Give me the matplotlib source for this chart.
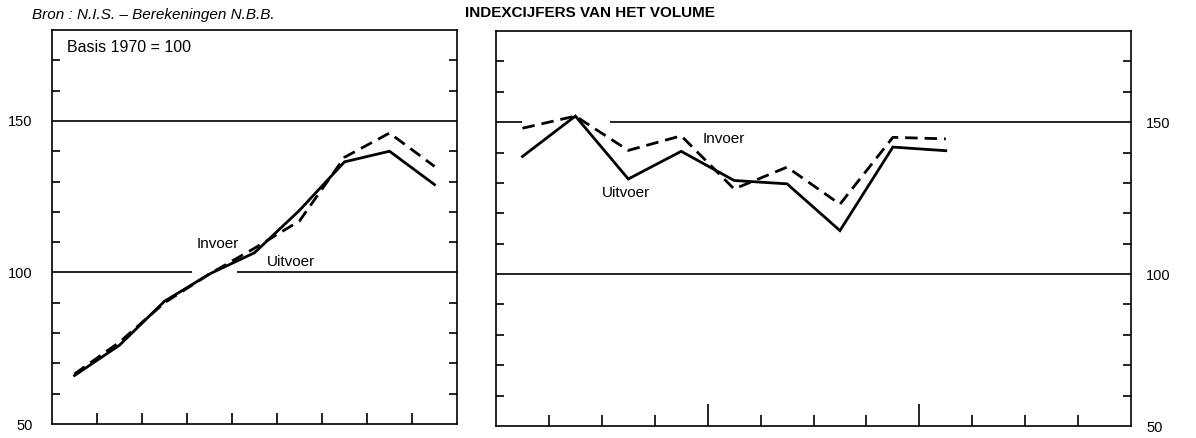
import matplotlib
matplotlib.use("Agg")
import matplotlib.pyplot as plt
import numpy as np
from matplotlib.ticker import FixedLocator

plt.rcParams['font.family'] = ['Liberation Sans', 'DejaVu Sans']

# ---- data (index, basis 1970 = 100) ----
left_uitvoer = [66, 76, 90.5, 99.5, 106.5, 120.5, 136.5, 140, 129]
left_invoer = [66.5, 77, 90, 99.5, 108, 117, 138, 146, 135]
right_uitvoer = [138.7, 152, 131.3, 140.4, 130.8, 129.7, 114.3, 141.8, 140.6]
right_invoer = [148, 152, 140.7, 145.5, 128, 135.2, 123, 145, 144.5]
y_labels = [50, 100, 150]
minor_y = [60, 70, 80, 90, 110, 120, 130, 140, 160, 170]
left_slots = 9      # annual slots on left panel
right_slots = 12    # quarterly slots on right panel (3 years)

W, H = 1196, 438
fig = plt.figure(figsize=(W / 100, H / 100), dpi=100)

def px_axes(x0, y0, x1, y1):
    return fig.add_axes([x0 / W, 1 - y1 / H, (x1 - x0) / W, (y1 - y0) / H])

axL = px_axes(52, 30, 457, 424)
axR = px_axes(496, 31, 1131, 426)

LW = 2.0
for ax, nslots in ((axL, left_slots), (axR, right_slots)):
    ax.set_xlim(0, nslots)
    ax.set_ylim(50, 180)
    for sp in ax.spines.values():
        sp.set_linewidth(1.2)
        sp.set_color('black')
    ax.yaxis.set_major_locator(FixedLocator(y_labels))
    ax.yaxis.set_minor_locator(FixedLocator(minor_y))
    ax.tick_params(axis='y', which='major', length=0, labelsize=10.5)
    ax.tick_params(axis='y', which='minor', direction='in', length=5.5, width=1.2,
                   left=True, right=True)
    ax.tick_params(axis='x', which='both', direction='in', width=1.2, bottom=True, top=False,
                   labelbottom=False)

# left panel x ticks
axL.xaxis.set_major_locator(FixedLocator(list(range(1, left_slots))))
axL.tick_params(axis='x', which='major', length=8)
axL.tick_params(axis='y', which='major', left=False, right=False, labelleft=True,
                labelright=False, pad=14)

# right panel x ticks: year boundaries longer
year_ticks = [4, 8]
axR.xaxis.set_major_locator(FixedLocator(year_ticks))
axR.xaxis.set_minor_locator(FixedLocator([t for t in range(1, right_slots) if t not in year_ticks]))
axR.tick_params(axis='x', which='major', length=16)
axR.tick_params(axis='x', which='minor', length=8)
axR.tick_params(axis='y', which='major', left=False, right=False, labelleft=False,
                labelright=True, pad=11)

# reference lines at 100 and 150 (with the gaps as in the original)
axL.hlines(150, 0, left_slots, color='black', lw=1.2)
axL.hlines(100, 0, 3.1, color='black', lw=1.2)
axL.hlines(100, 4.12, left_slots, color='black', lw=1.2)
axR.hlines(100, 0, right_slots, color='black', lw=1.2)
axR.hlines(150, 0, 0.5, color='black', lw=1.2)
axR.hlines(150, 2.15, right_slots, color='black', lw=1.2)

# series
xL = np.arange(len(left_uitvoer)) + 0.5
xR = np.arange(len(right_uitvoer)) + 0.5
axL.plot(xL, left_uitvoer, color='black', lw=LW, solid_joinstyle='miter')
axL.plot(xL, left_invoer, color='black', lw=LW, dashes=(4.5, 2.5))
axR.plot(xR, right_uitvoer, color='black', lw=LW, solid_joinstyle='miter')
axR.plot(xR, right_invoer, color='black', lw=LW, dashes=(4.5, 2.5))

# labels
axL.text(3.69, 109.5, 'Invoer', fontsize=11, ha='center', va='center')
axL.text(5.32, 103.6, 'Uitvoer', fontsize=11, ha='center', va='center')
axR.text(4.31, 144.5, 'Invoer', fontsize=11, ha='center', va='center')
axR.text(2.45, 126.7, 'Uitvoer', fontsize=11, ha='center', va='center')
axL.text(0.037, 0.955, 'Basis 1970 = 100', transform=axL.transAxes, fontsize=11.5,
         ha='left', va='center')

fig.text(32 / W, 1 - 15 / H, 'Bron : N.I.S. – Berekeningen N.B.B.', fontsize=11,
         style='italic', ha='left', va='center')
fig.text(590 / W, 1 - 13 / H, 'INDEXCIJFERS VAN HET VOLUME', fontsize=11,
         fontweight='bold', ha='center', va='center')

fig.savefig('out.png', dpi=100)
